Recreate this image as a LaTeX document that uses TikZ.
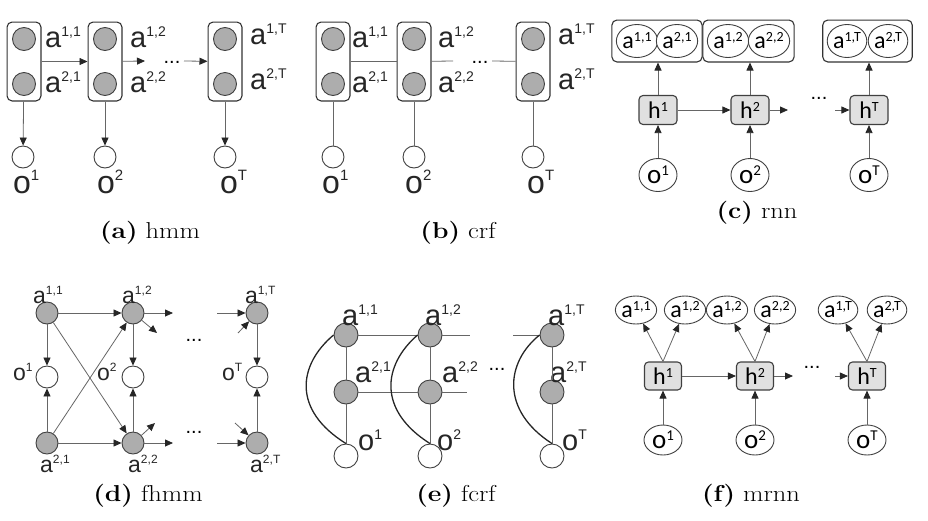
\documentclass[tikz,border=0pt]{standalone}
\usepackage{fontspec}
\usetikzlibrary{arrows.meta,fit,shapes.geometric}
\newfontfamily\lblfont{Liberation Sans}
\newfontfamily\rnnfont{Carlito}

\newcommand{\va}[2]{{\fontsize{29}{29}\selectfont #1}\raisebox{11pt}{\fontsize{14}{14}\selectfont #2}}
\newcommand{\vo}[2]{{\fontsize{32}{32}\selectfont #1}\raisebox{13pt}{\fontsize{15}{15}\selectfont #2}}
\newcommand{\vd}[2]{{\fontsize{23}{23}\selectfont #1}\raisebox{9pt}{\fontsize{12}{12}\selectfont #2}}
\newcommand{\vc}[2]{{\fontsize{24}{24}\selectfont #1}\raisebox{7pt}{\fontsize{14}{14}\selectfont #2}}
\newcommand{\vco}[2]{{\fontsize{27}{27}\selectfont #1}\raisebox{8pt}{\fontsize{15}{15}\selectfont #2}}

\begin{document}
\begin{tikzpicture}[x=1pt, y=-1pt,
    hid/.style={circle, draw=black!75, fill=black!32, line width=0.9pt, minimum size=23pt, inner sep=0pt},
    obs/.style={circle, draw=black!75, fill=white, line width=0.9pt, minimum size=22pt, inner sep=0pt},
    grp/.style={draw=black!80, rounded corners=5pt, line width=1.1pt, inner sep=5pt},
    con/.style={draw=black!60, line width=0.8pt},
    arr/.style={con, -{Triangle[length=8pt,width=7pt,color=black!85]}},
    curv/.style={draw=black!85, line width=1.3pt},
    hbox/.style={draw=black!75, fill=black!12, rounded corners=4pt, line width=1.1pt, minimum width=38pt, minimum height=29pt, inner sep=0pt, font=\rnnfont},
    vcirc/.style={ellipse, draw=black!75, fill=white, line width=0.9pt, minimum width=38pt, minimum height=33pt, inner sep=0pt, font=\rnnfont},
    fcirc/.style={vcirc, minimum width=34pt, minimum height=28pt},
    lbl/.style={anchor=base west, inner sep=0pt, font=\lblfont, text=black!85},
    dotnode/.style={anchor=base, inner sep=0pt, text height=3pt, text depth=0pt, font=\lblfont\fontsize{20}{20}\selectfont},
    captxt/.style={inner sep=0pt, font=\fontsize{23}{27}\selectfont, xscale=1.15, transform shape}]
\useasboundingbox (0,0) rectangle (928,520);

% (a) hmm
\node[hid] (a11) at (24,39) {};
\node[hid] (a21) at (24,84) {};
\node[grp, fit=(a11)(a21)] (A1) {};
\node[hid] (a12) at (105,39) {};
\node[hid] (a22) at (105,84) {};
\node[grp, fit=(a12)(a22)] (A2) {};
\node[hid] (a1T) at (225,39) {};
\node[hid] (a2T) at (225,84) {};
\node[grp, fit=(a1T)(a2T)] (A3) {};
\node[obs] (ao1) at (23,157) {};
\node[obs] (ao2) at (105,157) {};
\node[obs] (aoT) at (225,157) {};
\node[lbl] (la11) at (45,47) {\va{a}{1,1}};
\node[lbl] (la21) at (45,92) {\va{a}{2,1}};
\node[lbl] (la12) at (130,47) {\va{a}{1,2}};
\node[lbl] (la22) at (130,92) {\va{a}{2,2}};
\node[lbl] (la1T) at (250,44) {\va{a}{1,T}};
\node[lbl] (la2T) at (250,89) {\va{a}{2,T}};
\node[lbl] (lao1) at (13,193) {\vo{o}{1}};
\node[lbl] (lao2) at (97,193) {\vo{o}{2}};
\node[lbl] (laoT) at (220,193) {\vo{o}{T}};
\coordinate (ea) at (145,61);
\coordinate (sa) at (184,61);
\node[dotnode] (da) at (172,63) {...};
\draw[arr] (A1) -- (A2);
\draw[arr] (A2) -- (ea);
\draw[arr] (sa) -- (A3);
\draw[arr] (A1) -- (ao1);
\draw[arr] (A2) -- (ao2);
\draw[arr] (A3) -- (aoT);
\node[captxt] (capa) at (150,233) {\textbf{(a)} hmm};

% (b) crf
\node[hid] (b11) at (333,39) {};
\node[hid] (b21) at (333,84) {};
\node[grp, fit=(b11)(b21)] (B1) {};
\node[hid] (b12) at (414,39) {};
\node[hid] (b22) at (414,84) {};
\node[grp, fit=(b12)(b22)] (B2) {};
\node[hid] (b1T) at (533,39) {};
\node[hid] (b2T) at (533,84) {};
\node[grp, fit=(b1T)(b2T)] (B3) {};
\node[obs] (bo1) at (333,157) {};
\node[obs] (bo2) at (414,157) {};
\node[obs] (boT) at (533,157) {};
\node[lbl] (lb11) at (352,47) {\va{a}{1,1}};
\node[lbl] (lb21) at (352,92) {\va{a}{2,1}};
\node[lbl] (lb12) at (438,47) {\va{a}{1,2}};
\node[lbl] (lb22) at (438,92) {\va{a}{2,2}};
\node[lbl] (lb1T) at (558,44) {\va{a}{1,T}};
\node[lbl] (lb2T) at (558,89) {\va{a}{2,T}};
\node[lbl] (lbo1) at (322,193) {\vo{o}{1}};
\node[lbl] (lbo2) at (405,193) {\vo{o}{2}};
\node[lbl] (lboT) at (527,193) {\vo{o}{T}};
\coordinate (eb) at (453,61);
\coordinate (sb) at (492,61);
\node[dotnode] (db) at (480,63) {...};
\draw[con] (B1) -- (B2);
\draw[con] (B2) -- (eb);
\draw[con] (sb) -- (B3);
\draw[con] (B1) -- (bo1);
\draw[con] (B2) -- (bo2);
\draw[con] (B3) -- (boT);
\node[captxt] (capb) at (458,233) {\textbf{(b)} crf};

% (c) rnn
\node[vcirc] (c11) at (637,41) {\vc{a}{1,1}};
\node[vcirc] (c21) at (677,41) {\vc{a}{2,1}};
\node[grp, fit=(c11)(c21), inner sep=4pt] (C1) {};
\node[vcirc] (c12) at (728,41) {\vc{a}{1,2}};
\node[vcirc] (c22) at (769,41) {\vc{a}{2,2}};
\node[grp, fit=(c12)(c22), inner sep=4pt] (C2) {};
\node[vcirc] (c1T) at (847,41) {\vc{a}{1,T}};
\node[vcirc] (c2T) at (888,41) {\vc{a}{2,T}};
\node[grp, fit=(c1T)(c2T), inner sep=4pt] (C3) {};
\node[hbox] (ch1) at (658,110) {\vc{h}{1}};
\node[hbox] (ch2) at (750,110) {\vc{h}{2}};
\node[hbox] (chT) at (869,110) {\vc{h}{T}};
\node[vcirc] (co1) at (658,175) {\vco{o}{1}};
\node[vcirc] (co2) at (750,175) {\vco{o}{2}};
\node[vcirc] (coT) at (869,175) {\vco{o}{T}};
\coordinate (ec) at (788,110);
\coordinate (sc) at (835,110);
\node[dotnode] (dc) at (819,99) {...};
\draw[arr] (ch1.north) -- (ch1.north |- C1.south);
\draw[arr] (ch2.north) -- (ch2.north |- C2.south);
\draw[arr] (chT.north) -- (chT.north |- C3.south);
\draw[arr] (co1) -- (ch1);
\draw[arr] (co2) -- (ch2);
\draw[arr] (coT) -- (chT);
\draw[arr] (ch1) -- (ch2);
\draw[arr] (ch2) -- (ec);
\draw[arr] (sc) -- (chT);
\node[captxt] (capc) at (757,213) {\textbf{(c)} rnn};

% (d) fhmm
\node[hid, minimum size=22pt] (d11) at (47,313) {};
\node[hid, minimum size=22pt] (d12) at (133,313) {};
\node[hid, minimum size=22pt] (d1T) at (257,313) {};
\node[obs] (do1) at (47,377) {};
\node[obs] (do2) at (133,377) {};
\node[obs] (doT) at (257,377) {};
\node[hid, minimum size=22pt] (d21) at (47,443) {};
\node[hid, minimum size=22pt] (d22) at (133,443) {};
\node[hid, minimum size=22pt] (d2T) at (257,443) {};
\node[lbl] (ld11) at (33,303) {\vd{a}{1,1}};
\node[lbl] (ld12) at (122,303) {\vd{a}{1,2}};
\node[lbl] (ld1T) at (245,303) {\vd{a}{1,T}};
\node[lbl] (ld21) at (40,472) {\vd{a}{2,1}};
\node[lbl] (ld22) at (128,472) {\vd{a}{2,2}};
\node[lbl] (ld2T) at (250,472) {\vd{a}{2,T}};
\node[lbl] (ldo1) at (13,380) {\vd{o}{1}};
\node[lbl] (ldo2) at (97,380) {\vd{o}{2}};
\node[lbl] (ldoT) at (222,380) {\vd{o}{T}};
\coordinate (ed1) at (173,313);
\coordinate (ed2) at (157,333);
\coordinate (ed3) at (173,443);
\coordinate (ed4) at (155,423);
\coordinate (sd1) at (217,313);
\coordinate (sd2) at (238,333);
\coordinate (sd3) at (217,443);
\coordinate (sd4) at (235,423);
\node[dotnode] (dd1) at (194,341) {...};
\node[dotnode] (dd2) at (194,433) {...};
\draw[arr] (d11) -- (d12);
\draw[arr] (d21) -- (d22);
\draw[arr] (d11) -- (do1);
\draw[arr] (d21) -- (do1);
\draw[arr] (d12) -- (do2);
\draw[arr] (d22) -- (do2);
\draw[arr] (d11) -- (d22);
\draw[arr] (d21) -- (d12);
\draw[arr] (d12) -- (ed1);
\draw[arr] (d12) -- (ed2);
\draw[arr] (d22) -- (ed3);
\draw[arr] (d22) -- (ed4);
\draw[arr] (sd1) -- (d1T);
\draw[arr] (sd2) -- (d1T);
\draw[arr] (sd3) -- (d2T);
\draw[arr] (sd4) -- (d2T);
\draw[arr] (d1T) -- (doT);
\draw[arr] (d2T) -- (doT);
\node[captxt] (capd) at (148,496) {\textbf{(d)} fhmm};

% (e) fcrf
\node[hid, minimum size=24pt] (e11) at (346,335) {};
\node[hid, minimum size=24pt] (e21) at (346,392) {};
\node[obs, minimum size=24pt] (eo1) at (346,456) {};
\node[hid, minimum size=24pt] (e12) at (430,335) {};
\node[hid, minimum size=24pt] (e22) at (430,392) {};
\node[obs, minimum size=24pt] (eo2) at (430,456) {};
\node[hid, minimum size=24pt] (e1T) at (552,335) {};
\node[hid, minimum size=24pt] (e2T) at (552,392) {};
\node[obs, minimum size=24pt] (eoT) at (552,456) {};
\node[lbl] (le11) at (342,325) {\va{a}{1,1}};
\node[lbl] (le12) at (425,325) {\va{a}{1,2}};
\node[lbl] (le1T) at (548,325) {\va{a}{1,T}};
\node[lbl] (le21) at (355,382) {\va{a}{2,1}};
\node[lbl] (le22) at (442,382) {\va{a}{2,2}};
\node[lbl] (le2T) at (550,382) {\va{a}{2,T}};
\node[lbl] (leo1) at (358,450) {\va{o}{1}};
\node[lbl] (leo2) at (437,450) {\va{o}{2}};
\node[lbl] (leoT) at (562,450) {\va{o}{T}};
\coordinate (ee1) at (470,335);
\coordinate (ee2) at (467,392);
\coordinate (se1) at (513,335);
\node[dotnode] (de) at (497,370) {...};
\draw[con] (e11) -- (e12);
\draw[con] (e21) -- (e22);
\draw[con] (e11) -- (e21);
\draw[con] (e21) -- (eo1);
\draw[con] (e12) -- (e22);
\draw[con] (e22) -- (eo2);
\draw[con] (e12) -- (ee1);
\draw[con] (e22) -- (ee2);
\draw[con] (se1) -- (e1T);
\draw[con] (e1T) -- (e2T);
\draw[con] (e2T) -- (eoT);
\draw[curv] (e11.west) .. controls (298,365) and (292,410) .. (eo1.north);
\draw[curv] (e12.west) .. controls (383,365) and (377,410) .. (eo2.north);
\draw[curv] (e1T.west) .. controls (506,362) and (500,410) .. (eoT.north);
\node[captxt] (cape) at (456,496) {\textbf{(e)} fcrf};

% (f) mrnn
\node[fcirc] (f11) at (636,310) {\vc{a}{1,1}};
\node[fcirc] (f21) at (685,310) {\vc{a}{1,2}};
\node[fcirc] (f12) at (727,310) {\vc{a}{1,2}};
\node[fcirc] (f22) at (775,310) {\vc{a}{2,2}};
\node[fcirc] (f1T) at (838,310) {\vc{a}{1,T}};
\node[fcirc] (f2T) at (887,310) {\vc{a}{2,T}};
\node[hbox, minimum width=37pt, minimum height=28pt] (fh1) at (663,376) {\vc{h}{1}};
\node[hbox, minimum width=37pt, minimum height=28pt] (fh2) at (755,376) {\vc{h}{2}};
\node[hbox, minimum width=37pt, minimum height=28pt] (fhT) at (867,376) {\vc{h}{T}};
\node[vcirc, minimum height=30pt] (fo1) at (663,440) {\vco{o}{1}};
\node[vcirc, minimum height=30pt] (fo2) at (755,440) {\vco{o}{2}};
\node[vcirc, minimum height=30pt] (foT) at (867,440) {\vco{o}{T}};
\coordinate (ef) at (793,376);
\coordinate (sf) at (835,376);
\node[dotnode] (df) at (812,368) {...};
\draw[arr] (fh1.north) -- (f11);
\draw[arr] (fh1.north) -- (f21);
\draw[arr] (fh2.north) -- (f12);
\draw[arr] (fh2.north) -- (f22);
\draw[arr] (fhT.north) -- (f1T);
\draw[arr] (fhT.north) -- (f2T);
\draw[arr] (fo1) -- (fh1);
\draw[arr] (fo2) -- (fh2);
\draw[arr] (foT) -- (fhT);
\draw[arr] (fh1) -- (fh2);
\draw[arr] (fh2) -- (ef);
\draw[arr] (sf) -- (fhT);
\node[captxt] (capf) at (751,496) {\textbf{(f)} mrnn};
\end{tikzpicture}
\end{document}
